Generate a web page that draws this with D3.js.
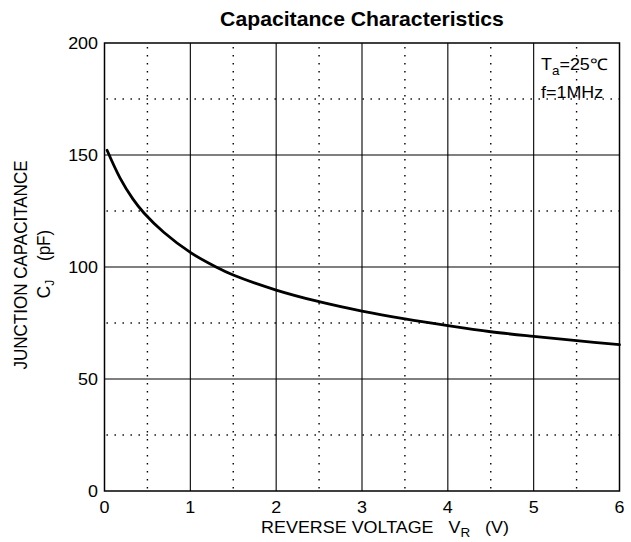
<!DOCTYPE html>
<html><head><meta charset="utf-8">
<script src="https://cdn.jsdelivr.net/npm/d3@7"></script>
<style>body{margin:0;background:#fff}text{font-family:"Liberation Sans",Arial,sans-serif;fill:#000}</style>
</head><body>
<svg id="c" width="631" height="542"></svg>
<script>
const voltage = [0.03,0.18,0.33,0.46,0.69,1,1.3,1.5,2,2.5,3,3.5,4,4.5,5,5.5,6];
const capacitance = [152.1,139.8,130.4,124.1,115.5,106.5,100.0,96.4,89.7,84.5,80.3,76.8,73.8,71.1,69.0,67.1,65.3];
const xTicks = [0,1,2,3,4,5,6];
const yTicks = [0,50,100,150,200];
const xMinor = [0.5,1.5,2.5,3.5,4.5,5.5];
const yMinor = [25,75,125,175];

const svg = d3.select("#c");
const L=104.5,R=619.5,T=43,B=491;
const SX=1.12;
const x = d3.scaleLinear().domain([0,6]).range([L,R]);
const y = d3.scaleLinear().domain([0,200]).range([B,T]);

// dotted grid
svg.append("g").selectAll("line").data(xMinor).join("line")
  .attr("x1",d=>x(d)).attr("x2",d=>x(d)).attr("y1",T+4).attr("y2",B)
  .attr("stroke","#000").attr("stroke-width",1.4).attr("stroke-dasharray","1.4,6.6");
svg.append("g").selectAll("line").data(yMinor).join("line")
  .attr("x1",L+2).attr("x2",R).attr("y1",d=>y(d)).attr("y2",d=>y(d))
  .attr("stroke","#000").attr("stroke-width",1.4).attr("stroke-dasharray","1.4,6.6");
// solid grid
svg.append("g").selectAll("line").data(xTicks.slice(1,-1)).join("line")
  .attr("x1",d=>x(d)).attr("x2",d=>x(d)).attr("y1",T).attr("y2",B)
  .attr("stroke","#000").attr("stroke-width",1.1);
svg.append("g").selectAll("line").data(yTicks.slice(1,-1)).join("line")
  .attr("x1",L).attr("x2",R).attr("y1",d=>y(d)).attr("y2",d=>y(d))
  .attr("stroke","#000").attr("stroke-width",1.1);
svg.append("rect").attr("x",L).attr("y",T).attr("width",R-L).attr("height",B-T)
  .attr("fill","none").attr("stroke","#000").attr("stroke-width",1.5);

// tick labels
svg.append("g").selectAll("text").data(xTicks).join("text")
  .attr("transform",d=>`translate(${x(d)},513) scale(${SX},1)`)
  .attr("text-anchor","middle").attr("font-size",16).text(d=>d);
svg.append("g").selectAll("text").data(yTicks).join("text")
  .attr("transform",d=>`translate(98,${y(d)+6}) scale(${SX},1)`)
  .attr("text-anchor","end").attr("font-size",16).text(d=>d);

// curve
const line = d3.line().x((d,i)=>x(voltage[i])).y(d=>y(d)).curve(d3.curveCatmullRom.alpha(0.5));
svg.append("path").datum(capacitance).attr("d",line)
  .attr("fill","none").attr("stroke","#000").attr("stroke-width",2.8).attr("stroke-linecap","round");

// title
svg.append("text").attr("transform","translate(362,26) scale(1.06,1)").attr("text-anchor","middle")
  .attr("font-size",20).attr("font-weight","bold").text("Capacitance Characteristics");

// x label
const xl = svg.append("text").attr("transform",`translate(385,533) scale(${SX},1)`).attr("text-anchor","middle")
  .attr("font-size",16).attr("xml:space","preserve");
xl.append("tspan").text("REVERSE VOLTAGE   V");
xl.append("tspan").attr("font-size",12).attr("dy",4).text("R");
xl.append("tspan").attr("dy",-4).text("   (V)");

// y label
svg.append("text").attr("transform","translate(27,265) rotate(-90) scale(1,1.08)").attr("text-anchor","middle")
  .attr("font-size",17).text("JUNCTION CAPACITANCE");
const yl = svg.append("text").attr("transform","translate(50,264) rotate(-90) scale(1,1.08)").attr("text-anchor","middle")
  .attr("font-size",17).attr("xml:space","preserve");
yl.append("tspan").text("C");
yl.append("tspan").attr("font-size",12).attr("dy",4).text("J");
yl.append("tspan").attr("dy",-4).text("    (pF)");

// annotation
const a = svg.append("text").attr("transform",`translate(541,70) scale(${SX},1)`).attr("font-size",16);
a.append("tspan").text("T");
a.append("tspan").attr("font-size",12).attr("dy",5).text("a");
a.append("tspan").attr("dy",-5).text("=25℃");
svg.append("text").attr("transform",`translate(541,98) scale(${SX},1)`).attr("font-size",16).text("f=1MHz");
</script>
</body></html>
